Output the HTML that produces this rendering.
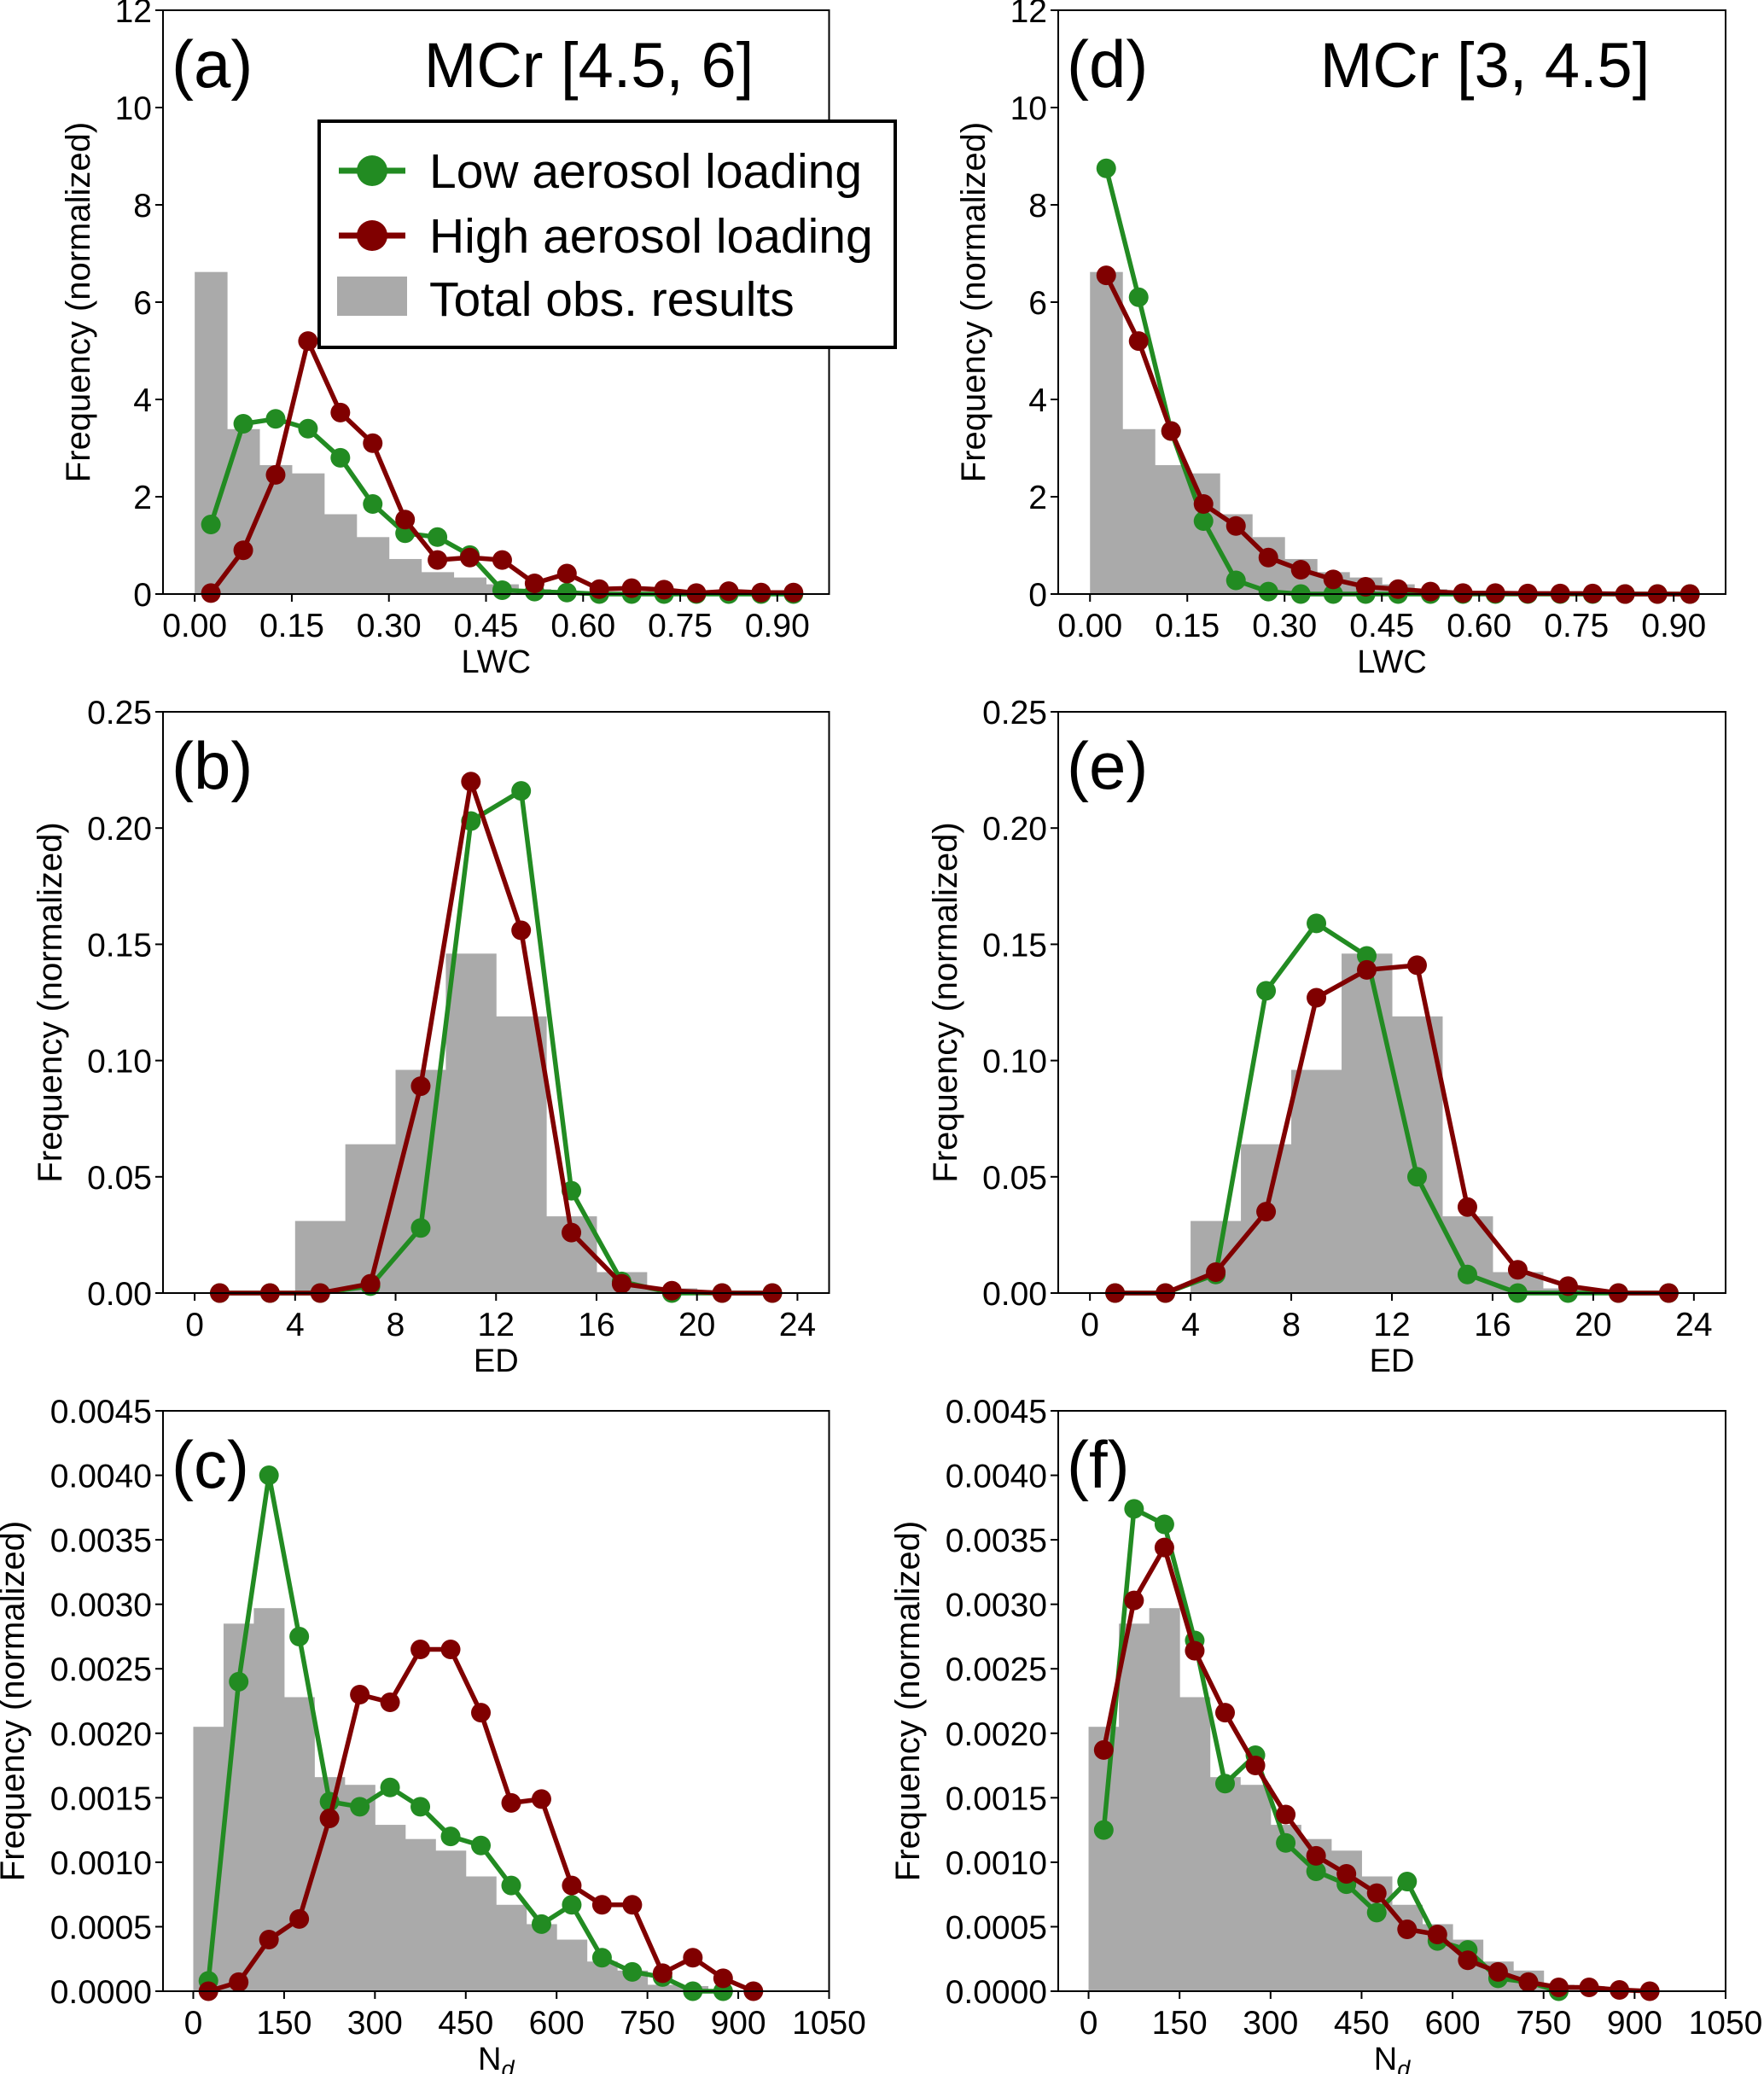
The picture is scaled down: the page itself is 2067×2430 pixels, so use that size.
<!DOCTYPE html>
<html><head><meta charset="utf-8"><style>
html,body{margin:0;padding:0;background:#fff}
svg{display:block}
text{font-family:"Liberation Sans","DejaVu Sans",sans-serif;fill:#000}
</style></head><body>
<svg id="fig" width="2067" height="2430" viewBox="0 0 2067 2430" xmlns="http://www.w3.org/2000/svg"></svg>
<script>
// ---- data ----
const lwcCenters = [0.025,0.075,0.125,0.175,0.225,0.275,0.325,0.375,0.425,0.475,0.525,0.575,0.625,0.675,0.725,0.775,0.825,0.875,0.925];
const lwcTotal = [6.62,3.39,2.65,2.48,1.64,1.17,0.72,0.45,0.34,0.2,0.1,0.05,0.03,0.02,0.02,0.01,0.01,0.01,0.0];
const aLow  = [1.43,3.5,3.6,3.4,2.8,1.85,1.25,1.17,0.8,0.08,0.05,0.03,0.0,0.0,0.0,0.0,0.0,0.0,0.0];
const aHigh = [0.02,0.9,2.45,5.2,3.73,3.1,1.53,0.7,0.75,0.7,0.22,0.42,0.1,0.12,0.09,0.02,0.06,0.03,0.03];
const dLow  = [8.75,6.1,3.35,1.5,0.28,0.05,0.0,0.0,0.0,0.0,0.0,0.0,0.0,0.0,0.0,0.0,0.0,0.0,0.0];
const dHigh = [6.55,5.2,3.35,1.85,1.4,0.75,0.5,0.3,0.15,0.1,0.05,0.02,0.02,0.01,0.01,0.01,0.0,0.0,0.0];
const lwcTicks = ["0.00","0.15","0.30","0.45","0.60","0.75","0.90"];
const lwcYTicks = ["0","2","4","6","8","10","12"];

const edCenters = [1,3,5,7,9,11,13,15,17,19,21,23];
const edTotal = [0,0,0.031,0.064,0.096,0.146,0.119,0.033,0.009,0.002,0,0];
const bLow  = [0,0,0,0.003,0.028,0.203,0.216,0.044,0.005,0,0,0];
const bHigh = [0,0,0,0.004,0.089,0.22,0.156,0.026,0.004,0.001,0,0];
const eLow  = [0,0,0.008,0.13,0.159,0.145,0.05,0.008,0,0,0,0];
const eHigh = [0,0,0.009,0.035,0.127,0.139,0.141,0.037,0.01,0.003,0,0];
const edTicks = ["0","4","8","12","16","20","24"];
const edYTicks = ["0.00","0.05","0.10","0.15","0.20","0.25"];

const ndCenters = [25,75,125,175,225,275,325,375,425,475,525,575,625,675,725,775,825,875,925];
const ndTotal = [0.00205,0.00285,0.00297,0.00228,0.00166,0.0016,0.00129,0.00118,0.00109,0.00089,0.00067,0.00052,0.0004,0.00023,0.00016,0.00005,0.00004,0.00001,0];
const cLow  = [0.00008,0.0024,0.004,0.00275,0.00147,0.00143,0.00158,0.00143,0.0012,0.00113,0.00082,0.00052,0.00067,0.00026,0.00015,0.00011,0.0,0.0];
const cHigh = [0.0,0.00007,0.0004,0.00056,0.00134,0.0023,0.00224,0.00265,0.00265,0.00216,0.00146,0.00149,0.00082,0.00067,0.00067,0.00014,0.00026,0.0001,0.0];
const fLow  = [0.00125,0.00374,0.00362,0.00272,0.00161,0.00183,0.00115,0.00093,0.00083,0.00061,0.00085,0.00039,0.00032,0.0001,0.00007,0.0];
const fHigh = [0.00187,0.00303,0.00344,0.00264,0.00216,0.00175,0.00137,0.00105,0.00091,0.00076,0.00048,0.00044,0.00024,0.00015,0.00007,0.00003,0.00003,0.00001,0.0];
const ndTicks = ["0","150","300","450","600","750","900","1050"];
const ndYTicks = ["0.0000","0.0005","0.0010","0.0015","0.0020","0.0025","0.0030","0.0035","0.0040","0.0045"];

const NS="http://www.w3.org/2000/svg";
const svg=document.getElementById('fig');
function mk(tag,attrs,parent){const e=document.createElementNS(NS,tag);for(const k in attrs)e.setAttribute(k,attrs[k]);(parent||svg).appendChild(e);return e;}
const GREEN="#228b22", RED="#800000", GRAY="#aaaaaa";

function panel(o){
  const g=mk('g',{});
  
  
  const L=o.x0,R=o.x1,T=o.y0,B=o.y1;
  const sx=v=>L+(v-o.xmin)/(o.xmax-o.xmin)*(R-L);
  const sy=v=>B-(v-o.ymin)/(o.ymax-o.ymin)*(B-T);
  const hg=mk('g',{},g);
  
  
  o.cx.forEach((c,i)=>{const v=o.total[i];if(!v)return;
    const r=mk('rect',{x:sx(c-o.bw/2),y:sy(v),width:sx(c+o.bw/2)-sx(c-o.bw/2)+0.5,height:B-sy(v),fill:GRAY},hg);
    
    });
  function series(vals,col,name){
    const sg=mk('g',{},g);
    
    
    const pts=vals.map((v,i)=>sx(o.cx[i])+','+sy(v)).join(' ');
    mk('polyline',{points:pts,fill:'none',stroke:col,'stroke-width':5.5,'stroke-linejoin':'round'},sg);
    vals.forEach((v,i)=>{const c=mk('circle',{cx:sx(o.cx[i]),cy:sy(v),r:11.5,fill:col},sg);
      
      });
  }
  series(o.low,GREEN,'low-aerosol-series');
  series(o.high,RED,'high-aerosol-series');
  const fr=mk('rect',{x:L,y:T,width:R-L,height:B-T,fill:'none',stroke:'#000','stroke-width':2},g);
  
  
  const xt=mk('g',{},g);
  
  
  o.xticks.forEach(t=>{const x=sx(parseFloat(t));
    mk('line',{x1:x,y1:B,x2:x,y2:B+9,stroke:'#000','stroke-width':2},xt);
    const tx=mk('text',{x:x,y:B+50,'font-size':39,'text-anchor':'middle'},xt);tx.textContent=t;});
  const yt=mk('g',{},g);
  
  
  o.yticks.forEach(t=>{const y=sy(parseFloat(t));
    mk('line',{x1:L,y1:y,x2:L-9,y2:y,stroke:'#000','stroke-width':2},yt);
    const tx=mk('text',{x:L-13,y:y+14,'font-size':39,'text-anchor':'end'},yt);tx.textContent=t;});
  const xl=mk('text',{x:(L+R)/2,y:B+92,'font-size':38,'text-anchor':'middle'},g);
  
  
  if(o.xlabel==='Nd'){xl.textContent='N';const s=mk('tspan',{'font-size':27,'font-style':'italic',dy:8},xl);s.textContent='d';}
  else xl.textContent=o.xlabel;
  const yx=L-o.yoff;
  const yl=mk('text',{x:yx,y:(T+B)/2,'font-size':40,'text-anchor':'middle',transform:`rotate(-90 ${yx} ${(T+B)/2})`},g);
  
  
  yl.textContent='Frequency (normalized)';
  const pl=mk('text',{x:L+10,y:T+90,'font-size':78},g);
  
  
  pl.textContent='('+o.id+')';
  if(o.title){const tt=mk('text',{x:o.titleX,y:T+90,'font-size':74,'text-anchor':'middle'},g);
    
    
    tt.textContent=o.title;}
}
const colL=[191,971.5], colR=[1240,2022];
const rows=[[12,696],[834,1515],[1653,2333]];
const lwcX={xmin:-0.049,xmax:0.98,cx:lwcCenters,bw:0.05,total:lwcTotal,xticks:lwcTicks,yticks:lwcYTicks,ymin:0,ymax:12,xlabel:'LWC'};
const edX={xmin:-1.26,xmax:25.26,cx:edCenters,bw:2,total:edTotal,xticks:edTicks,yticks:edYTicks,ymin:0,ymax:0.25,xlabel:'ED'};
const ndX={xmin:-50,xmax:1050,cx:ndCenters,bw:50,total:ndTotal,xticks:ndTicks,yticks:ndYTicks,ymin:0,ymax:0.0045,xlabel:'Nd'};
panel(Object.assign({},lwcX,{id:'a',x0:colL[0],x1:colL[1],y0:rows[0][0],y1:rows[0][1],low:aLow,high:aHigh,yoff:86,title:'MCr [4.5, 6]',titleX:690}));
panel(Object.assign({},lwcX,{id:'d',x0:colR[0],x1:colR[1],y0:rows[0][0],y1:rows[0][1],low:dLow,high:dHigh,yoff:86,title:'MCr [3, 4.5]',titleX:1740}));
panel(Object.assign({},edX,{id:'b',x0:colL[0],x1:colL[1],y0:rows[1][0],y1:rows[1][1],low:bLow,high:bHigh,yoff:119}));
panel(Object.assign({},edX,{id:'e',x0:colR[0],x1:colR[1],y0:rows[1][0],y1:rows[1][1],low:eLow,high:eHigh,yoff:119}));
panel(Object.assign({},ndX,{id:'c',x0:colL[0],x1:colL[1],y0:rows[2][0],y1:rows[2][1],low:cLow,high:cHigh,yoff:163}));
panel(Object.assign({},ndX,{id:'f',x0:colR[0],x1:colR[1],y0:rows[2][0],y1:rows[2][1],low:fLow,high:fHigh,yoff:163}));
const lg=mk('g',{});


mk('rect',{x:374,y:142,width:675,height:265,fill:'#fff',stroke:'#000','stroke-width':4},lg);
[[GREEN,'Low aerosol loading',200],[RED,'High aerosol loading',276]].forEach(([c,t,y])=>{
  const e=mk('g',{},lg);
  
  
  mk('line',{x1:397,y1:y,x2:475,y2:y,stroke:c,'stroke-width':7},e);
  mk('circle',{cx:436,cy:y,r:18,fill:c},e);
  const tx=mk('text',{x:503,y:y+20,'font-size':57},e);tx.textContent=t;});
const e3=mk('g',{},lg);


mk('rect',{x:395,y:324,width:82,height:46,fill:GRAY},e3);
const t3=mk('text',{x:503,y:370,'font-size':57},e3);t3.textContent='Total obs. results';
</script>
</body></html>
